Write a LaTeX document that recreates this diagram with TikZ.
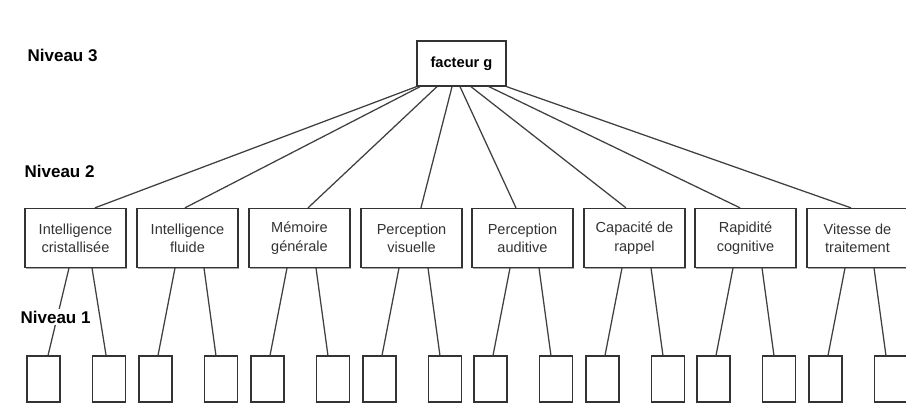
\documentclass[tikz,border=0pt]{standalone}
\usepackage{fontspec}
\setmainfont{Liberation Sans}
\usetikzlibrary{shadows}

\tikzset{
  schatten/.style={drop shadow={shadow xshift=0.6pt, shadow yshift=-0.9pt, opacity=0.35, fill=black}},
  faktor/.style={draw=black!80, line width=1pt, fill=white, schatten, inner sep=0pt,
    minimum width=66.75pt, minimum height=33.75pt, font=\fontsize{11}{13}\selectfont\bfseries},
  faehigkeit/.style={draw=black!80, line width=1pt, fill=white, schatten, inner sep=0pt,
    minimum width=75.75pt, minimum height=44.25pt, align=center, text=black!80,
    font=\fontsize{10.9}{13.8}\selectfont},
  leer/.style={draw=black!80, line width=1pt, fill=white, schatten, inner sep=0pt,
    minimum width=24.75pt, minimum height=34.5pt},
  niveau/.style={anchor=west, fill=white, inner sep=1pt, font=\fontsize{12.75}{15}\selectfont\bfseries},
  kante/.style={draw=black!75, line width=0.95pt}
}

\begin{document}
\begin{tikzpicture}[x=0.75pt, y=-0.75pt]
  \useasboundingbox (0,0) rectangle (906,419);

  % Niveau 3
  \node[faktor] (g) at (461.5,63.5) {facteur g};

  % Niveau 2
  \node[faehigkeit] (n1) at (75.5,238) {Intelligence\\cristallisée};
  \node[faehigkeit] (n2) at (187.5,238) {Intelligence\\fluide};
  \node[faehigkeit] (n3) at (299.5,238) {Mémoire\\générale};
  \node[faehigkeit] (n4) at (411.5,238) {Perception\\visuelle};
  \node[faehigkeit] (n5) at (522.5,238) {Perception\\auditive};
  \node[faehigkeit] (n6) at (634.5,238) {Capacité de\\rappel};
  \node[faehigkeit] (n7) at (745.5,238) {Rapidité\\cognitive};
  \node[faehigkeit] (n8) at (857.5,238) {Vitesse de\\traitement};

  % Niveau 1
  \node[leer] (n1a) at (43.5,379) {};  \node[leer] (n1b) at (109,379) {};
  \node[leer] (n2a) at (155.5,379) {}; \node[leer] (n2b) at (221,379) {};
  \node[leer] (n3a) at (267.5,379) {}; \node[leer] (n3b) at (333,379) {};
  \node[leer] (n4a) at (379.5,379) {}; \node[leer] (n4b) at (445,379) {};
  \node[leer] (n5a) at (490.5,379) {}; \node[leer] (n5b) at (556,379) {};
  \node[leer] (n6a) at (602.5,379) {}; \node[leer] (n6b) at (668,379) {};
  \node[leer] (n7a) at (713.5,379) {}; \node[leer] (n7b) at (779,379) {};
  \node[leer] (n8a) at (825.5,379) {}; \node[leer] (n8b) at (891,379) {};

  % Verbindungen facteur g -> Niveau 2
  \draw[kante] (g.south west) -- ([xshift=14.6pt]n1.north);
  \draw[kante] ([xshift=-31.1pt]g.south) -- ([xshift=-1.9pt]n2.north);
  \draw[kante] ([xshift=-18.4pt]g.south) -- ([xshift=6.4pt]n3.north);
  \draw[kante] ([xshift=-7.1pt]g.south) -- ([xshift=7.1pt]n4.north);
  \draw[kante] ([xshift=-1.1pt]g.south) -- ([xshift=-4.9pt]n5.north);
  \draw[kante] ([xshift=7.1pt]g.south) -- ([xshift=-6.4pt]n6.north);
  \draw[kante] ([xshift=20.6pt]g.south) -- ([xshift=-4.1pt]n7.north);
  \draw[kante] (g.south east) -- ([xshift=-4.9pt]n8.north);

  % Verbindungen Niveau 2 -> Niveau 1
  \draw[kante] ([xshift=-4.9pt]n1.south) -- ([xshift=3.4pt]n1a.north);
  \draw[kante] ([xshift=12.4pt]n1.south) -- ([xshift=-2.2pt]n1b.north);
  \draw[kante] ([xshift=-9.4pt]n2.south) -- ([xshift=1.9pt]n2a.north);
  \draw[kante] ([xshift=12.4pt]n2.south) -- ([xshift=-3.8pt]n2b.north);
  \draw[kante] ([xshift=-9.4pt]n3.south) -- ([xshift=1.9pt]n3a.north);
  \draw[kante] ([xshift=12.4pt]n3.south) -- ([xshift=-3.8pt]n3b.north);
  \draw[kante] ([xshift=-9.4pt]n4.south) -- ([xshift=1.9pt]n4a.north);
  \draw[kante] ([xshift=12.4pt]n4.south) -- ([xshift=-3.8pt]n4b.north);
  \draw[kante] ([xshift=-9.4pt]n5.south) -- ([xshift=1.9pt]n5a.north);
  \draw[kante] ([xshift=12.4pt]n5.south) -- ([xshift=-3.8pt]n5b.north);
  \draw[kante] ([xshift=-9.4pt]n6.south) -- ([xshift=1.9pt]n6a.north);
  \draw[kante] ([xshift=12.4pt]n6.south) -- ([xshift=-3.8pt]n6b.north);
  \draw[kante] ([xshift=-9.4pt]n7.south) -- ([xshift=1.9pt]n7a.north);
  \draw[kante] ([xshift=12.4pt]n7.south) -- ([xshift=-3.8pt]n7b.north);
  \draw[kante] ([xshift=-9.4pt]n8.south) -- ([xshift=1.9pt]n8a.north);
  \draw[kante] ([xshift=12.4pt]n8.south) -- ([xshift=-3.8pt]n8b.north);

  % Beschriftungen
  \node[niveau] (niv3) at (26,55) {Niveau 3};
  \node[niveau] (niv2) at (23,171) {Niveau 2};
  \node[niveau] (niv1) at (19,317) {Niveau 1};
\end{tikzpicture}
\end{document}
